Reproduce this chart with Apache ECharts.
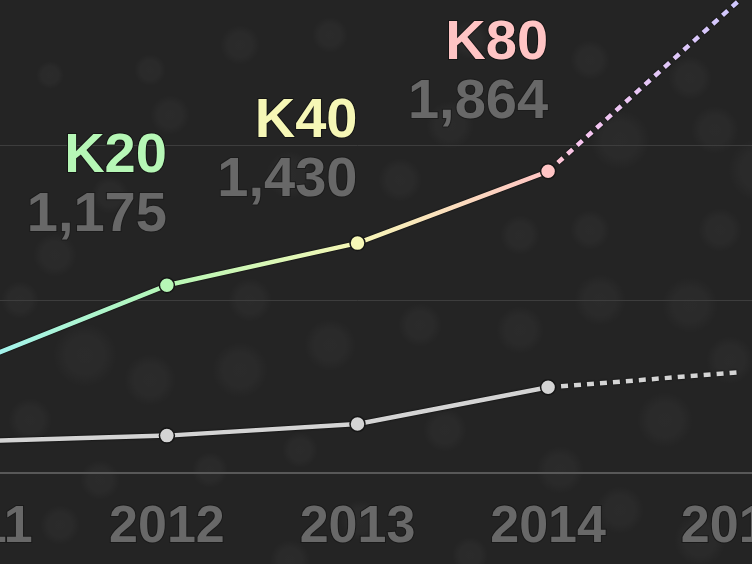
<!DOCTYPE html>
<html>
<head>
<meta charset="utf-8">
<script src="https://cdn.jsdelivr.net/npm/echarts@6/dist/echarts.min.js"></script>
<style>
html,body{margin:0;padding:0;background:#242424;overflow:hidden;width:752px;height:564px;position:relative;}
#chart{position:absolute;left:-119px;top:0;width:953px;height:564px;}
</style>
</head>
<body>
<div id="chart"></div>
<script>
// ---- data ----
const YEARS = ['2011', '2012', '2013', '2014', '2015'];
const GPU_SOLID = [713, 1175, 1430, 1864, null];
const GPU_PROJECTED = [null, null, null, 1864, 2895];
const CPU_SOLID = [232, 266, 336, 558, null];
const CPU_PROJECTED = [null, null, null, 558, 649];
const GPU_MODELS = ['', 'K20', 'K40', 'K80', ''];
const GPU_VALUE_LABELS = ['', '1,175', '1,430', '1,864', ''];
const GRID_VALUES = [1085, 2023];
const Y_MIN = 40;
const Y_MAX = 2900;

// ---- styles ----
const OFFSET_X = 119; // chart canvas is shifted left by this many px
const MODEL_COLORS = ['#a4f3ec', '#b6f7b6', '#f6f7b6', '#ffc4c4', ''];
const LABEL_DY = [0, 1, 8, 2, 0];
const FONT = '"Liberation Sans", Arial, sans-serif';

const gpuGradient = {
  type: 'linear', x: OFFSET_X, y: 0, x2: OFFSET_X + 752, y2: 0, global: true,
  colorStops: [
    { offset: 0.0, color: '#a4f3ec' },
    { offset: 0.222, color: '#b6f7b6' },
    { offset: 0.472, color: '#f6f7b6' },
    { offset: 0.728, color: '#ffc4c4' },
    { offset: 0.77, color: '#f8c6f0' },
    { offset: 1.0, color: '#ccc8ff' }
  ]
};

const gpuSolidData = GPU_SOLID.map((v, i) => {
  const item = { value: v, itemStyle: { color: MODEL_COLORS[i] || '#ffc4c4' } };
  if (!GPU_MODELS[i]) return item;
  item.label = {
    show: true,
    position: 'top',
    distance: 0,
    align: 'right',
    verticalAlign: 'bottom',
    offset: [0, -33 + LABEL_DY[i]],
    formatter: '{k|' + GPU_MODELS[i] + '}\n{v|' + GPU_VALUE_LABELS[i] + '}',
    rich: {
      k: { color: MODEL_COLORS[i], fontSize: 56, fontWeight: 'bold', fontFamily: FONT, lineHeight: 59, align: 'right', textBorderColor: '#151515', textBorderWidth: 2 },
      v: { color: '#686868', fontSize: 56, fontWeight: 'bold', fontFamily: FONT, lineHeight: 59, align: 'right', textBorderColor: '#1c1c1c', textBorderWidth: 2 }
    }
  };
  return item;
});

// decorative bokeh (viewport coordinates)
const BOKEH = [
  [240,45,28,20],[330,35,24,18],[150,70,20,16],[50,75,18,14],[470,40,26,19],[590,60,28,20],[690,78,30,22],
  [620,140,44,30],[715,130,30,24],[450,125,32,24],[400,180,28,22],[290,175,30,24],[170,115,26,20],[110,195,24,19],
  [55,255,28,22],[20,300,24,19],[85,355,42,32],[150,380,34,26],[240,370,34,28],[330,345,32,26],[420,325,28,22],
  [520,330,32,24],[600,300,36,26],[690,305,38,28],[730,360,28,24],[445,430,30,22],[560,470,32,24],[665,420,36,28],
  [620,510,32,24],[100,480,26,20],[60,525,26,20],[360,520,26,20],[290,560,30,20],[470,555,28,18],[700,540,36,26],
  [520,235,26,20],[590,230,24,20],[30,420,30,22],[210,470,24,18],[300,450,22,18],[720,230,26,22],[760,170,32,32],[250,300,28,22]
];
const bokehGraphics = [{
  type: 'group',
  x: OFFSET_X,
  silent: true,
  z: -10,
  children: BOKEH.map(b => ({
    type: 'ellipse',
    silent: true,
    z: -10,
    shape: { cx: b[0], cy: b[1], rx: b[2], ry: b[3] },
    style: {
      fill: {
        type: 'radial', x: 0.5, y: 0.5, r: 0.5,
        colorStops: [
          { offset: 0, color: 'rgba(255,255,255,0.032)' },
          { offset: 0.6, color: 'rgba(255,255,255,0.026)' },
          { offset: 1, color: 'rgba(255,255,255,0)' }
        ]
      }
    }
  }))
}];

const lineShadow = { shadowColor: 'rgba(0,0,0,0.95)', shadowBlur: 2 };

const chart = echarts.init(document.getElementById('chart'), null, { renderer: 'canvas' });
chart.setOption({
  backgroundColor: '#242424',
  animation: false,
  graphic: bokehGraphics,
  grid: { left: 0, right: 0, top: 0, bottom: 91, containLabel: false },
  xAxis: {
    type: 'category',
    data: YEARS,
    boundaryGap: true,
    axisLine: { show: true, lineStyle: { color: '#585858', width: 2 } },
    axisTick: { show: false },
    splitLine: { show: false },
    axisLabel: {
      interval: 0,
      margin: 29,
      color: '#686868',
      fontSize: 52,
      fontWeight: 'bold',
      fontFamily: FONT,
      textBorderColor: '#1a1a1a',
      textBorderWidth: 2
    }
  },
  yAxis: {
    type: 'value',
    min: Y_MIN,
    max: Y_MAX,
    show: false,
    splitLine: { show: false }
  },
  series: [
    {
      type: 'line',
      data: CPU_SOLID,
      z: 2,
      symbol: 'circle',
      symbolSize: 15,
      lineStyle: Object.assign({ color: '#d4d4d4', width: 4.5 }, lineShadow),
      itemStyle: { color: '#d4d4d4', borderColor: '#151515', borderWidth: 1.5 },
      markLine: {
        silent: true,
        symbol: ['none', 'none'],
        label: { show: false },
        lineStyle: { color: '#3d3d3d', width: 1, type: 'solid' },
        data: GRID_VALUES.map(v => ({ yAxis: v })),
        z: 1
      }
    },
    {
      type: 'line',
      data: CPU_PROJECTED,
      z: 2,
      showSymbol: false,
      symbol: 'none',
      lineStyle: Object.assign({ color: '#d4d4d4', width: 4.5, type: [7, 6] }, lineShadow)
    },
    {
      type: 'line',
      data: GPU_PROJECTED,
      z: 3,
      showSymbol: false,
      symbol: 'none',
      lineStyle: Object.assign({ color: gpuGradient, width: 4.5, type: [7, 6] }, lineShadow)
    },
    {
      type: 'line',
      data: gpuSolidData,
      z: 4,
      symbol: 'circle',
      symbolSize: 15,
      lineStyle: Object.assign({ color: gpuGradient, width: 4.5 }, lineShadow),
      itemStyle: { borderColor: '#151515', borderWidth: 1.5 }
    }
  ]
});
</script>
</body>
</html>
